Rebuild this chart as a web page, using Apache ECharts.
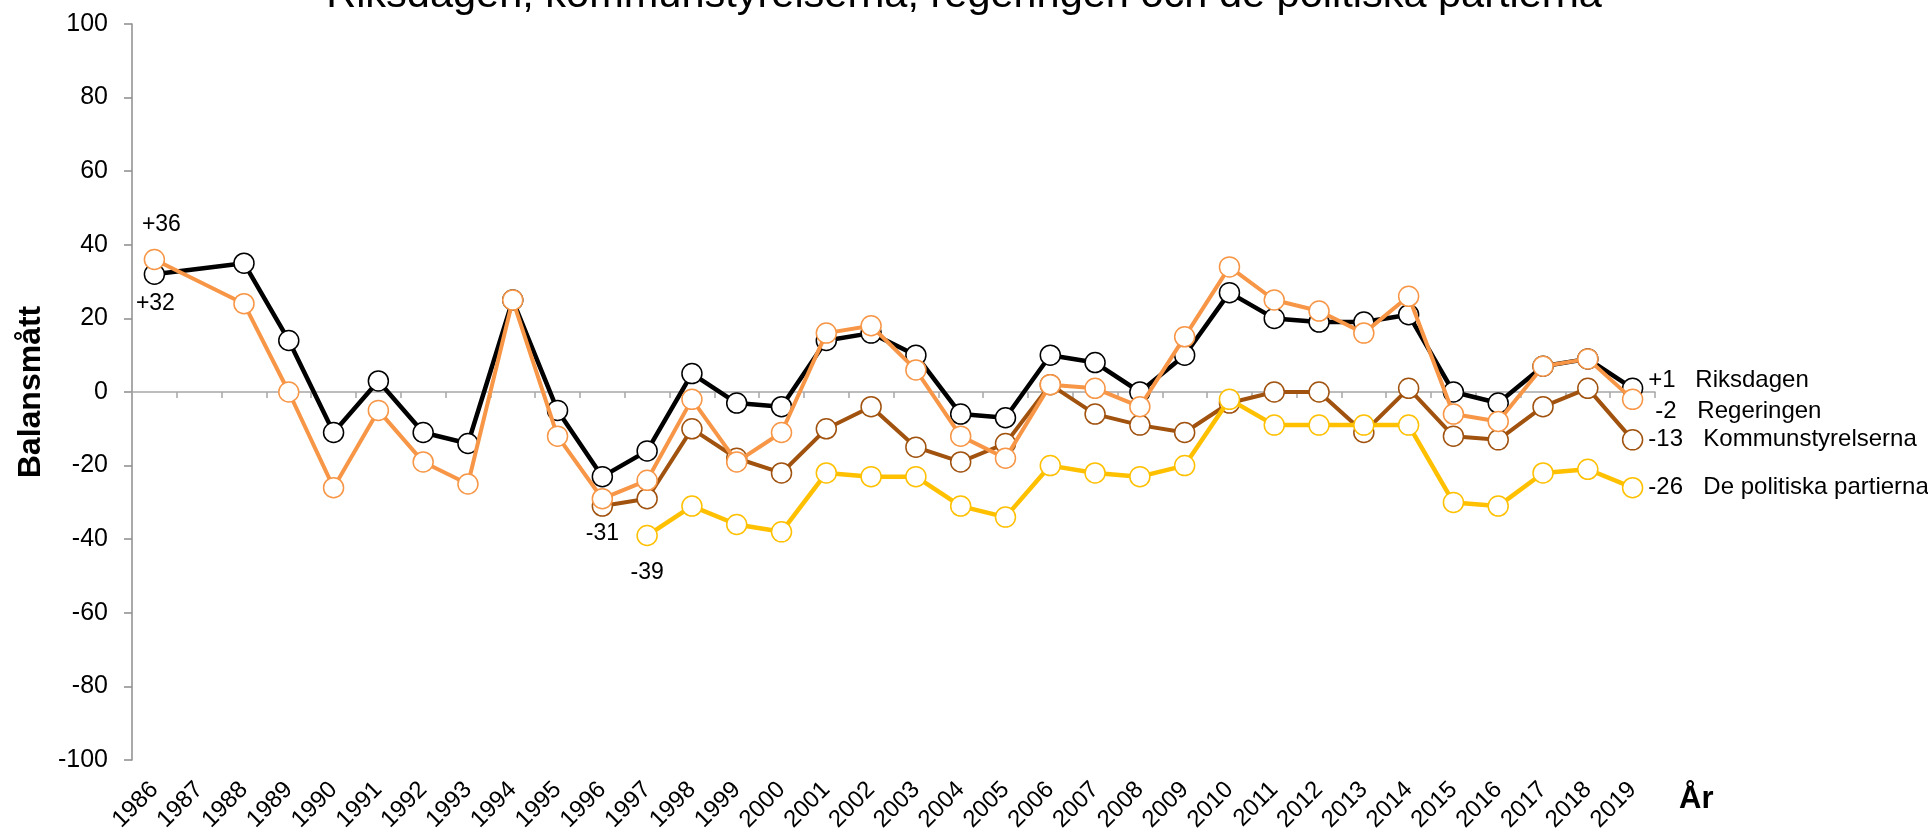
<!DOCTYPE html>
<html><head><meta charset="utf-8">
<script src="https://cdn.jsdelivr.net/npm/echarts@6/dist/echarts.min.js"></script>
<style>html,body{margin:0;padding:0;background:#fff}#c{width:1928px;height:838px}</style>
</head><body><div id="c"></div>
<script>
const years = ['1986','1987','1988','1989','1990','1991','1992','1993','1994','1995','1996','1997','1998','1999','2000','2001','2002','2003','2004','2005','2006','2007','2008','2009','2010','2011','2012','2013','2014','2015','2016','2017','2018','2019'];
const riksdagen = [32,null,35,14,-11,3,-11,-14,25,-5,-23,-16,5,-3,-4,14,16,10,-6,-7,10,8,0,10,27,20,19,19,21,0,-3,7,9,1];
const regeringen = [36,null,24,0,-26,-5,-19,-25,25,-12,-29,-24,-2,-19,-11,16,18,6,-12,-18,2,1,-4,15,34,25,22,16,26,-6,-8,7,9,-2];
const kommunstyrelserna = [null,null,null,null,null,null,null,null,null,null,-31,-29,-10,-18,-22,-10,-4,-15,-19,-14,2,-6,-9,-11,-3,0,0,-11,1,-12,-13,-4,1,-13];
const partierna = [null,null,null,null,null,null,null,null,null,null,null,-39,-31,-36,-38,-22,-23,-23,-31,-34,-20,-22,-23,-20,-2,-9,-9,-9,-9,-30,-31,-22,-21,-26];
const yTicks = [-100,-80,-60,-40,-20,0,20,40,60,80,100];
const seriesNames = ['Riksdagen','Regeringen','Kommunstyrelserna','De politiska partierna'];
const endNumbers = ['+1','-2','-13','-26'];
const title = 'Riksdagen, kommunstyrelserna, regeringen och de politiska partierna';

const FONT = 'Arial, "Liberation Sans", sans-serif';
function withLabels(values, labels) {
  return values.map((v, i) => labels[i] ? { value: v, label: labels[i] } : v);
}
function endLabel(num, name, nw, off) {
  return {
    show: true, position: 'right', offset: off,
    formatter: '{n|' + num + '}{t|' + name + '}',
    rich: { n: { width: nw, fontSize: 24, fontFamily: FONT, color: '#000' },
            t: { fontSize: 24, fontFamily: FONT, color: '#000' } }
  };
}
function pointLabel(txt, off) {
  return { show: true, position: 'inside', offset: off, formatter: txt,
           fontSize: 23, fontFamily: FONT, color: '#000' };
}
const last = years.length - 1;

function mkSeries(name, values, color, lw, labels, z) {
  return {
    name, type: 'line', data: withLabels(values, labels), connectNulls: true,
    symbol: 'circle', symbolSize: 20, z,
    lineStyle: { color, width: lw },
    itemStyle: { color: '#fff', borderColor: color, borderWidth: 1.5 },
    label: { show: false }, emphasis: { disabled: true }, animation: false
  };
}

const rLabels = {}; rLabels[0] = pointLabel('+32', [1, 29]); rLabels[last] = endLabel(endNumbers[0], seriesNames[0], 47, [0, -8]);
const gLabels = {}; gLabels[0] = pointLabel('+36', [7, -35]); gLabels[last] = endLabel(endNumbers[1], seriesNames[1], 42, [7, 12]);
const kLabels = {}; kLabels[10] = pointLabel('-31', [0, 28]); kLabels[last] = endLabel(endNumbers[2], seriesNames[2], 55, [0, 0]);
const pLabels = {}; pLabels[11] = pointLabel('-39', [0, 37]); pLabels[last] = endLabel(endNumbers[3], seriesNames[3], 55, [0, 0]);

const chart = echarts.init(document.getElementById('c'), null, { renderer: 'canvas' });
chart.setOption({
  backgroundColor: '#fff',
  animation: false,
  title: { text: title, left: 'center', top: -30,
           textStyle: { fontSize: 41.5, fontWeight: 'normal', fontFamily: FONT, color: '#000' } },
  grid: { left: 132, right: 273, top: 24, bottom: 74 },
  xAxis: [
    { type: 'category', data: years, boundaryGap: true,
      axisLine: { onZero: true, lineStyle: { color: '#a6a6a6', width: 1.5 } },
      axisTick: { show: true, length: 6, lineStyle: { color: '#a6a6a6', width: 1.5 } },
      axisLabel: { show: false }, splitLine: { show: false } },
    { type: 'category', data: years, boundaryGap: true, position: 'bottom',
      axisLine: { show: false }, axisTick: { show: false },
      axisLabel: { show: true, rotate: 45, interval: 0, margin: 26, fontSize: 24, fontFamily: FONT, color: '#000' },
      name: 'År', nameLocation: 'end', nameGap: 24,
      nameTextStyle: { fontSize: 31, fontWeight: 'bold', fontFamily: FONT, color: '#000',
                       verticalAlign: 'top', lineHeight: 78 } }
  ],
  yAxis: {
    type: 'value', min: yTicks[0], max: yTicks[yTicks.length - 1], interval: 20,
    axisLine: { show: true, onZero: false, lineStyle: { color: '#8c8c8c', width: 1.5 } },
    axisTick: { show: true, length: 8, lineStyle: { color: '#8c8c8c', width: 1.5 } },
    axisLabel: { fontSize: 25, fontFamily: FONT, color: '#000', margin: 24 },
    splitLine: { show: false },
    name: 'Balansmått', nameLocation: 'middle', nameRotate: 90, nameGap: 80,
    nameTextStyle: { fontSize: 32, fontWeight: 'bold', fontFamily: FONT, color: '#000' }
  },
  series: [
    mkSeries(seriesNames[0], riksdagen, '#000000', 4.5, rLabels, 2),
    mkSeries(seriesNames[2], kommunstyrelserna, '#a0520e', 4, kLabels, 3),
    mkSeries(seriesNames[1], regeringen, '#f79646', 4, gLabels, 4),
    mkSeries(seriesNames[3], partierna, '#ffc000', 4.5, pLabels, 5)
  ]
});
</script></body></html>
